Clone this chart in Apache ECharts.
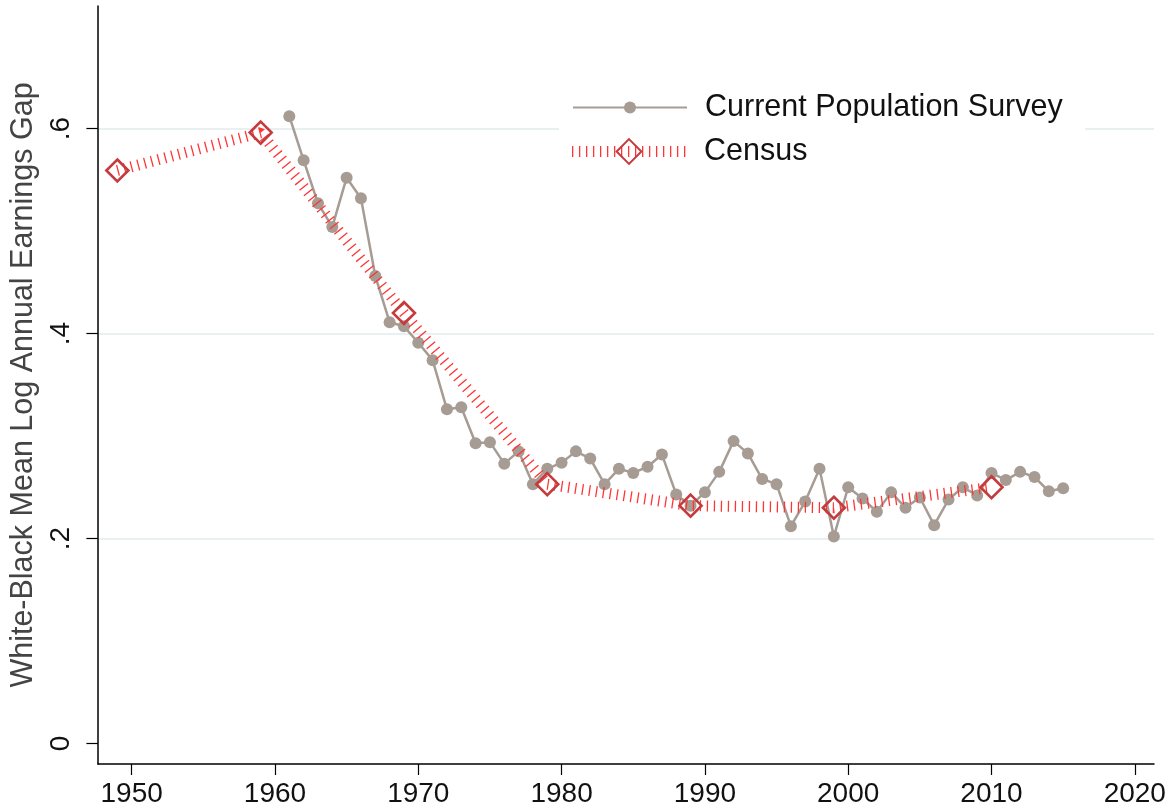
<!DOCTYPE html>
<html lang="en">

<head>
    <meta charset="UTF-8">
    <title>White-Black Earnings Gap</title>
    <script src="https://cdn.jsdelivr.net/npm/echarts@6/dist/echarts.min.js"></script>
    <style>
        body,
        html {
            background-color: #fff;
            width: 100%;
            height: 100%;
            margin: 0;
        }
    </style>
</head>

<body>
    <div id="chart" style="width: 1172px; height: 810px;"></div>
    <script>
        // Current Population Survey, yearly
        var cpsYears = [1961, 1962, 1963, 1964, 1965, 1966, 1967, 1968, 1969, 1970,
            1971, 1972, 1973, 1974, 1975, 1976, 1977, 1978, 1979, 1980,
            1981, 1982, 1983, 1984, 1985, 1986, 1987, 1988, 1989, 1990,
            1991, 1992, 1993, 1994, 1995, 1996, 1997, 1998, 1999, 2000,
            2001, 2002, 2003, 2004, 2005, 2006, 2007, 2008, 2009, 2010,
            2011, 2012, 2013, 2014, 2015];
        var cpsGap = [0.612, 0.569, 0.527, 0.504, 0.552, 0.532, 0.456, 0.411, 0.407, 0.391,
            0.374, 0.326, 0.328, 0.293, 0.294, 0.273, 0.285, 0.253, 0.268, 0.274,
            0.285, 0.278, 0.253, 0.268, 0.264, 0.270, 0.282, 0.243, 0.232, 0.245,
            0.265, 0.295, 0.283, 0.258, 0.253, 0.212, 0.236, 0.268, 0.202, 0.250,
            0.239, 0.226, 0.245, 0.230, 0.240, 0.213, 0.238, 0.250, 0.242, 0.264,
            0.257, 0.265, 0.260, 0.246, 0.249];

        // Decennial Census
        var censusYears = [1949, 1959, 1969, 1979, 1989, 1999, 2010];
        var censusGap = [0.559, 0.596, 0.420, 0.253, 0.232, 0.230, 0.250];

        var xTicks = [1950, 1960, 1970, 1980, 1990, 2000, 2010, 2020];
        var yTicks = [0, 0.2, 0.4, 0.6];

        function pairs(xs, ys) {
            return xs.map(function (x, i) { return [x, ys[i]]; });
        }

        var font = "'Liberation Sans', Arial, sans-serif";
        var gridColor = '#e8f0f1';
        var censusDash = { color: '#ff3535', width: 11, type: [1.3, 5.7], cap: 'butt' };

        var option = {
            animation: false,
            backgroundColor: '#fff',
            textStyle: { fontFamily: font },
            grid: { left: 98, right: 18, top: 6, bottom: 46 },
            graphic: [{
                type: 'rect',
                z: 1,
                shape: { x: 559, y: 82, width: 526, height: 92 },
                style: { fill: '#fff' }
            }],
            legend: [{
                data: ['Current Population Survey'],
                left: 572, top: 92,
                padding: 0,
                itemWidth: 114, itemHeight: 15,
                textStyle: { fontSize: 30.5, color: '#111', fontFamily: font, padding: [0, 0, 0, 13] }
            }, {
                data: ['Census'],
                // wide dashed stroke pads the bounding box, so shift back
                left: 566.5, top: 136,
                padding: 0,
                itemWidth: 114, itemHeight: 31,
                lineStyle: censusDash,
                textStyle: { fontSize: 30.5, color: '#111', fontFamily: font, padding: [0, 0, 0, 13] }
            }],
            xAxis: {
                type: 'value',
                min: 1947.65,
                max: 2021.34,
                splitLine: { show: false },
                axisLine: { onZero: false, lineStyle: { color: '#000', width: 1.5 } },
                axisTick: { show: true, length: 11, customValues: xTicks, lineStyle: { color: '#000', width: 1.2 } },
                axisLabel: {
                    customValues: xTicks, margin: 16, fontSize: 28, color: '#111', fontFamily: font,
                    formatter: function (v) { return String(v); }
                }
            },
            yAxis: {
                type: 'value',
                min: -0.02,
                max: 0.7195,
                name: 'White-Black Mean Log Annual Earnings Gap',
                nameLocation: 'middle',
                nameGap: 47,
                nameTextStyle: { fontSize: 30.5, color: '#444', fontFamily: font },
                axisLine: { show: true, onZero: false, lineStyle: { color: '#000', width: 1.5 } },
                axisTick: { show: true, length: 11.6, customValues: yTicks, lineStyle: { color: '#000', width: 1.2 } },
                axisLabel: {
                    customValues: yTicks, rotate: 90, margin: 23, fontSize: 28, color: '#111', fontFamily: font,
                    formatter: function (v) { return v === 0 ? '0' : String(+v.toFixed(1)).replace(/^0/, ''); }
                },
                splitLine: {
                    show: true,
                    // no rule at zero, light rules at .2 .4 .6
                    lineStyle: { color: ['rgba(0,0,0,0)', gridColor, gridColor, gridColor], width: 2 }
                }
            },
            series: [{
                name: 'Current Population Survey',
                type: 'line',
                data: pairs(cpsYears, cpsGap),
                symbol: 'circle',
                symbolSize: 12,
                showAllSymbol: true,
                itemStyle: { color: '#a69c93' },
                lineStyle: { color: '#a69c93', width: 2.5 },
                z: 2
            }, {
                name: 'Census',
                type: 'line',
                data: pairs(censusYears, censusGap),
                symbol: 'diamond',
                symbolSize: 22,
                showAllSymbol: true,
                itemStyle: { color: 'rgba(255,255,255,0)', borderColor: '#c43b3e', borderWidth: 2.6 },
                lineStyle: censusDash,
                z: 3
            }]
        };

        var myChart = echarts.init(document.getElementById('chart'));
        myChart.setOption(option);
    </script>
</body>

</html>
